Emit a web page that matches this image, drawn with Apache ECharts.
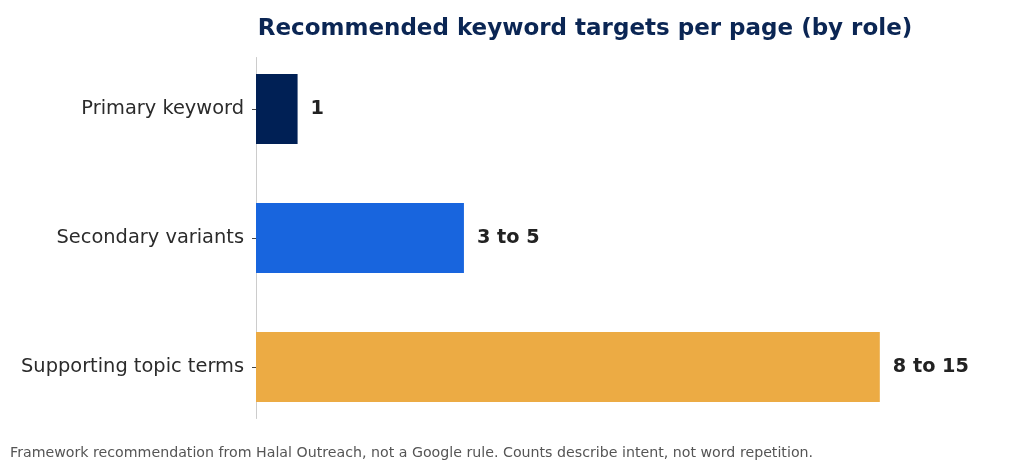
<!DOCTYPE html>
<html><head><meta charset="utf-8">
<script src="https://cdn.jsdelivr.net/npm/echarts@6/dist/echarts.min.js"></script>
<style>html,body{margin:0;padding:0;background:#fff}#c{width:1024px;height:461px}</style>
</head><body><div id="c"></div>
<script>
const categories = ["Primary keyword", "Secondary variants", "Supporting topic terms"];
const values = [1, 5, 15];
const valueLabels = ["1", "3 to 5", "8 to 15"];
const barColors = ["#002055", "#1865de", "#ecab44"];
const titleText = "Recommended keyword targets per page (by role)";
const footnote = "Framework recommendation from Halal Outreach, not a Google rule. Counts describe intent, not word repetition.";

const chart = echarts.init(document.getElementById('c'), null, {renderer: 'canvas'});
const font = "DejaVu Sans";
chart.setOption({
  animation: false,
  backgroundColor: '#ffffff',
  textStyle: {fontFamily: font},
  title: [
    {text: titleText, left: 585, textAlign: 'center', top: 18, padding: 0,
     textStyle: {fontFamily: font, fontSize: 23, fontWeight: 'bold', color: '#0b2654'}},
    {text: footnote, left: 10, top: 446, padding: 0,
     textStyle: {fontFamily: font, fontSize: 14.2, fontWeight: 'normal', color: '#555555'}}
  ],
  grid: [
    {left: 256, right: 113, top: 44.5, height: 387},
    {left: 256, right: 113, top: 57.5, height: 361}
  ],
  xAxis: [
    {type: 'value', gridIndex: 0, min: 0, max: 15.75, show: false},
    {type: 'value', gridIndex: 1, min: 0, max: 15.75, show: false}
  ],
  yAxis: [
    {type: 'category', gridIndex: 0, data: categories, inverse: true,
     axisLine: {show: false},
     axisTick: {show: true, alignWithLabel: true, length: 4, lineStyle: {color: '#444444'}},
     axisLabel: {fontFamily: font, fontSize: 19.4, color: '#2b2b2b', margin: 12, padding: [3, 0, 0, 0]}},
    {type: 'value', gridIndex: 1, min: 0, max: 1,
     axisLine: {show: true, lineStyle: {color: '#cccccc', width: 1}},
     axisTick: {show: false}, axisLabel: {show: false}, splitLine: {show: false}}
  ],
  series: [{
    type: 'bar', xAxisIndex: 0, yAxisIndex: 0,
    barWidth: 70,
    data: values.map((v, i) => ({value: v, itemStyle: {color: barColors[i]},
      label: {formatter: valueLabels[i]}})),
    label: {show: true, position: 'right', distance: 13, padding: [2, 0, 0, 0],
      fontFamily: font, fontSize: 19.3, fontWeight: 'bold', color: '#222222'}
  }]
});
</script></body></html>
